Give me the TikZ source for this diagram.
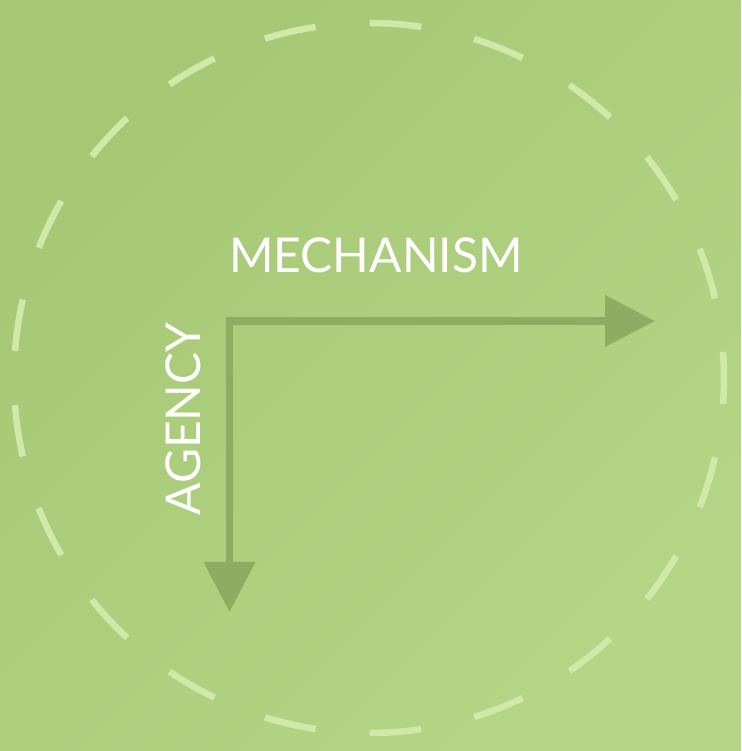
\documentclass[tikz,border=0pt]{standalone}
\usepackage{fontspec}
\setmainfont{Lato}
\usetikzlibrary{arrows.meta}
\definecolor{bgA}{HTML}{A6C874}
\definecolor{bgB}{HTML}{B5D587}
\definecolor{arrowc}{HTML}{8FAD62}
\definecolor{dashcol}{HTML}{CFE9A8}
\tikzset{
  dashseg/.style={draw=dashcol, line width=6.5pt},
  axisarrow/.style={draw=arrowc, line width=7.5pt, line join=miter,
    {Triangle[width=50pt,length=50pt]}-{Triangle[width=50pt,length=50pt]}},
  lbl/.style={text=white, font=\fontsize{48}{48}\selectfont, inner sep=0pt},
}
\begin{document}
\begin{tikzpicture}[x=1pt,y=1pt]
  \useasboundingbox (0,0) rectangle (741,751);
  \shade[left color=bgA, right color=bgB, shading angle=45] (0,0) rectangle (741,751);
  \coordinate (c) at (369,373);
  \foreach \i in {0,...,20} {
    \pgfmathsetmacro{\a}{\i*360/21}
    \draw[dashseg] ([shift={(\a-4.2:355)}]c) arc[start angle=\a-4.2, end angle=\a+4.2, radius=355];
  }
  \coordinate (O) at (229.5,430);
  \coordinate (mechEnd) at (655,430);
  \coordinate (agEnd) at (229.5,139);
  \draw[axisarrow] (mechEnd) -- (O) -- (agEnd);
  \node[lbl, anchor=base] (mech) at (376,478) {MECHANISM};
  \node[lbl, anchor=base, rotate=90] (agency) at (200,332) {AGENCY};
\end{tikzpicture}
\end{document}
